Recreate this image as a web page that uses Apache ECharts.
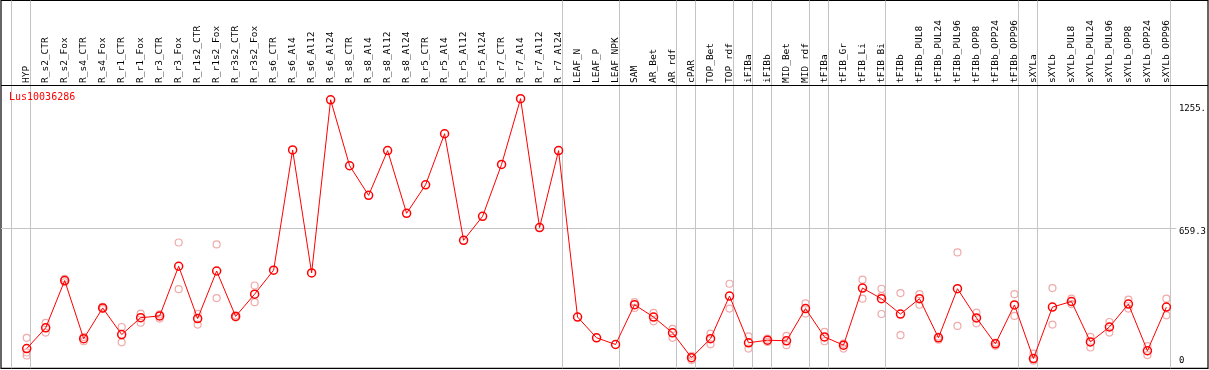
<!DOCTYPE html>
<html>
<head>
<meta charset="utf-8">
<script src="https://cdn.jsdelivr.net/npm/echarts@6/dist/echarts.min.js"></script>
<style>
html,body{margin:0;padding:0;background:#fff;}
#chart{width:1209px;height:370px;}
</style>
</head>
<body>
<div id="chart"></div>
<script>
const categories = ['HYP','R_s2_CTR','R_s2_Fox','R_s4_CTR','R_s4_Fox','R_r1_CTR','R_r1_Fox','R_r3_CTR','R_r3_Fox',
  'R_r1s2_CTR','R_r1s2_Fox','R_r3s2_CTR','R_r3s2_Fox','R_s6_CTR','R_s6_Al4','R_s6_Al12','R_s6_Al24',
  'R_s8_CTR','R_s8_Al4','R_s8_Al12','R_s8_Al24','R_r5_CTR','R_r5_Al4','R_r5_Al12','R_r5_Al24',
  'R_r7_CTR','R_r7_Al4','R_r7_Al12','R_r7_Al24','LEAF_N','LEAF_P','LEAF_NPK','SAM','AR_Bet','AR_rdf',
  'cPAR','TOP_Bet','TOP_rdf','iFIBa','iFIBb','MID_Bet','MID_rdf','tFIBa','tFIB_Gr','tFIB_Li','tFIB_Bi',
  'tFIBb','tFIBb_PUL8','tFIBb_PUL24','tFIBb_PUL96','tFIBb_OPP8','tFIBb_OPP24','tFIBb_OPP96',
  'sXYLa','sXYLb','sXYLb_PUL8','sXYLb_PUL24','sXYLb_PUL96','sXYLb_OPP8','sXYLb_OPP24','sXYLb_OPP96'];

const meanValues = [99,195,414,145,287,164,242,250,480,238,458,248,351,462,
  1018,449,1250,945,808,1015,725,857,1093,600,711,951,1255.3,659,1015,
  245,149,118,302,245,172,57,145,342,126,138,135,284,153,115,379,330,
  259,330,149,376,241,121,301,53,291,317,130,199,305,89,291];

const rep1 = [149,218,422,153,292,199,261,257,590,260,581,253,391,null,
  null,null,null,null,null,null,null,null,null,null,null,null,null,null,null,
  null,null,null,314,264,190,66,168,399,156,145,158,308,176,99,418,376,
  356,351,155,544,265,127,351,76,379,330,153,222,326,110,330];

const rep2 = [81,173,406,133,282,128,219,238,374,210,333,243,314,null,
  null,null,null,null,null,null,null,null,null,null,null,null,null,null,null,
  null,null,null,287,225,149,46,119,284,99,130,115,261,133,122,330,342,
  161,302,140,204,216,112,250,43,210,305,104,173,284,69,253];

const rep3 = [67,null,null,null,null,null,null,null,null,null,null,null,null,null,
  null,null,null,null,null,null,null,null,null,null,null,null,null,null,null,
  null,null,null,null,null,null,null,null,null,null,null,null,null,null,null,null,259,
  null,null,null,null,null,null,null,null,null,null,null,null,null,null,null];

const tickValues = [0, 659.3, 1255];
const tickLabels = ['0', '659.3', '1255.'];
const axisTop = 1318.6;
// index of last category in each group (vertical separators)
const groupEnds = [-1,0,28,31,34,35,37,38,39,41,42,45,52,53,60];
const geneName = 'Lus10036286';

// ---- layout ----
const STEP = 19, X0 = 26.7;
const PLOT_TOP = 85, ZERO_Y = 371.6, FRAME_TOP = 0.5, FRAME_BOTTOM = 368.3, FRAME_L = 1, FRAME_R = 1208;
const pxPerUnit = (ZERO_Y - PLOT_TOP) / axisTop;
const sepOff = 4 / STEP;
const mono = 'DejaVu Sans Mono';

const frameXMin = (FRAME_L - X0) / STEP, frameXMax = (FRAME_R - X0) / STEP;
const frameYMin = (ZERO_Y - FRAME_BOTTOM) / pxPerUnit;
const frameYMax = axisTop + (PLOT_TOP - FRAME_TOP) / pxPerUnit;

const gray = '#c4c4c4';
const markData = groupEnds.map(g => ({xAxis: g + sepOff, lineStyle: {color: gray, width: 1, type: 'solid'}}));
markData.push({yAxis: axisTop, lineStyle: {color: '#000', width: 1.2, type: 'solid'}});
markData.push([{coord: [frameXMin, tickValues[1]], lineStyle: {color: gray, width: 1, type: 'solid'}},
               {coord: [categories.length - 0.5, tickValues[1]]}]);

const repStyle = {color: 'rgba(0,0,0,0)', borderColor: '#eb9595', borderWidth: 1.2};
function repSeries(arr){
  return {type: 'scatter', xAxisIndex: 1, yAxisIndex: 1, data: arr, symbol: 'circle', symbolSize: 7,
          itemStyle: repStyle, silent: true, z: 3};
}

const chart = echarts.init(document.getElementById('chart'));
chart.setOption({
  animation: false,
  backgroundColor: '#fff',
  title: {text: geneName, left: 9, top: 92, padding: 0,
          textStyle: {color: '#ff0000', fontFamily: mono, fontSize: 10, fontWeight: 'normal'}},
  grid: [
    {left: FRAME_L, width: FRAME_R - FRAME_L, top: FRAME_TOP, height: FRAME_BOTTOM - FRAME_TOP,
     show: true, borderColor: '#000', borderWidth: 1.2, backgroundColor: 'transparent'},
    {left: X0 - STEP / 2, width: STEP * categories.length, top: PLOT_TOP, height: ZERO_Y - PLOT_TOP}
  ],
  xAxis: [
    {type: 'value', gridIndex: 0, min: frameXMin, max: frameXMax, show: false},
    {type: 'category', gridIndex: 1, data: categories, position: 'top', boundaryGap: true,
     axisLine: {show: false}, axisTick: {show: false}, splitLine: {show: false},
     axisLabel: {rotate: 90, interval: 0, margin: 2, fontFamily: mono, fontSize: 9.5, color: '#000'}}
  ],
  yAxis: [
    {type: 'value', gridIndex: 0, min: frameYMin, max: frameYMax, show: false},
    {type: 'value', gridIndex: 1, min: 0, max: axisTop, position: 'right',
     axisLine: {show: false}, axisTick: {show: false}, splitLine: {show: false},
     axisLabel: {
       customValues: tickValues, margin: 3, align: 'left',
       formatter: function(v){
         const i = tickValues.indexOf(v);
         const key = i === 0 ? 'b' : (i === 1 ? 'm' : 't');
         return '{' + key + '|' + (i >= 0 ? tickLabels[i] : '') + '}';
       },
       rich: {
         t: {fontFamily: mono, fontSize: 9, color: '#000', padding: [19, 0, 0, 0]},
         m: {fontFamily: mono, fontSize: 9, color: '#000', padding: [8, 0, 0, 0]},
         b: {fontFamily: mono, fontSize: 9, color: '#000', padding: [0, 0, 19, 0]}
       }
     }}
  ],
  series: [
    {type: 'line', xAxisIndex: 0, yAxisIndex: 0, data: [], silent: true,
     markLine: {silent: true, symbol: ['none', 'none'], label: {show: false}, animation: false, data: markData}},
    repSeries(rep1), repSeries(rep2), repSeries(rep3),
    {type: 'line', xAxisIndex: 1, yAxisIndex: 1, data: meanValues, symbol: 'circle', symbolSize: 8,
     showAllSymbol: true, z: 5,
     lineStyle: {color: '#ff0000', width: 1},
     itemStyle: {color: 'rgba(0,0,0,0)', borderColor: '#ff0000', borderWidth: 1.5}}
  ]
});
</script>
</body>
</html>
